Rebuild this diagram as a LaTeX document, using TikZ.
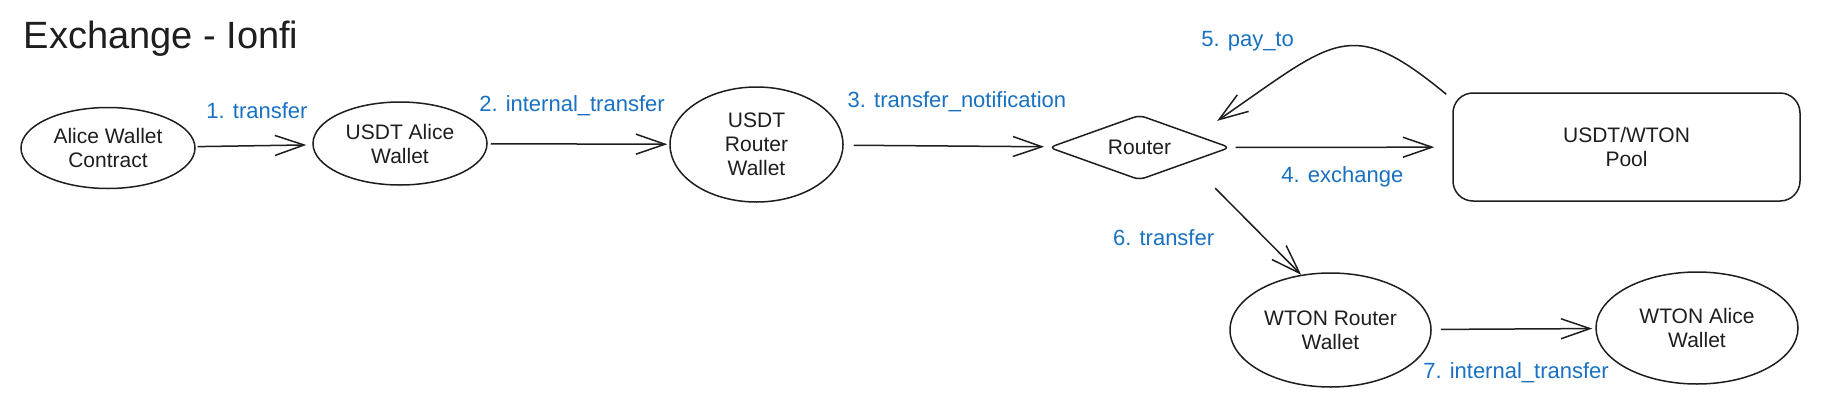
\documentclass[tikz,border=0pt]{standalone}
\usepackage{fontspec}
\setmainfont{Liberation Sans}
\usetikzlibrary{shapes.geometric,arrows.meta}
\definecolor{inkblack}{HTML}{1E1E1E}
\definecolor{labelblue}{HTML}{1971C2}
\begin{document}
\begin{tikzpicture}[x=0.5pt,y=-0.5pt,line width=0.75pt,color=inkblack,
    >={Straight Barb[length=14.5pt,width=10pt]},
    wallet/.style={ellipse,draw,inner sep=0pt,align=center,font=\fontsize{10.5}{12}\selectfont},
    hub/.style={diamond,draw,rounded corners=3pt,aspect=2.78,inner sep=0pt,minimum width=90.5pt,minimum height=32.5pt,font=\fontsize{10.5}{12}\selectfont},
    lbl/.style={text=labelblue,inner sep=0pt,font=\fontsize{11}{13}\selectfont},
    flow/.style={->,shorten <=2pt,shorten >=2pt}]
\fill[white] (0,0) rectangle (1836,418);
\useasboundingbox (0,0) rectangle (1836,418);
\node[anchor=base west,inner sep=0pt,font=\fontsize{19}{21}\selectfont] (title) at (23,48) {Exchange - Ionfi};
% wallets and contracts
\node[wallet,minimum width=87pt,minimum height=40.5pt] (alice) at (108,148) {Alice Wallet\\Contract};
\node[wallet,minimum width=87pt,minimum height=41.5pt] (usdtalice) at (400,143.5) {USDT Alice\\Wallet};
\node[wallet,minimum width=86.5pt,minimum height=57.5pt] (usdtrouter) at (756.5,144.5) {USDT\\Router\\Wallet};
\node[hub] (router) at (1139.5,147.5) {Router};
\node[draw,rounded corners=10pt,minimum width=173.5pt,minimum height=54pt,align=center,font=\fontsize{10.5}{12}\selectfont] (pool) at (1626.5,147) {USDT/WTON\\Pool};
\node[wallet,minimum width=100.5pt,minimum height=57pt] (wtonrouter) at (1330.5,330) {WTON Router\\Wallet};
\node[wallet,minimum width=101pt,minimum height=56pt] (wtonalice) at (1697,328) {WTON Alice\\Wallet};
% messages
\draw[flow,shorten <=1pt,shorten >=3pt](alice)--node[lbl,xshift=1.5pt,yshift=17.5pt](l1){1. transfer}(usdtalice);
\draw[flow,shorten <=1.5pt,shorten >=1pt](usdtalice)--node[lbl,xshift=-3.25pt,yshift=19pt](l2){2. internal\_transfer}(usdtrouter);
\draw[flow,shorten <=5pt,shorten >=3pt](usdtrouter)--node[lbl,xshift=5pt,yshift=22pt](l3){3. transfer\_notification}(router);
\draw[flow,shorten <=2.5pt,shorten >=9pt](router)--node[lbl,xshift=0.5pt,yshift=-14.75pt](l4){4. exchange}(pool);
\draw[flow,shorten <=0pt,shorten >=0pt]([shift={(-6,2)}]pool.north west) .. controls +(-97,-80) and +(118,-81) .. ([shift={(32,-10)}]router.north east)
    node[lbl,pos=0.5,xshift=-46pt,yshift=3pt](l5){5. pay\_to};
\draw[flow,shorten <=0pt,shorten >=0pt]([shift={(30,24)}]router.south east)--node[lbl,xshift=-47.25pt,yshift=-3pt](l6){6. transfer}(wtonrouter.118);
\draw[flow,shorten <=4.5pt,shorten >=1.5pt](wtonrouter)--node[lbl,xshift=1.25pt,yshift=-22pt](l7){7. internal\_transfer}(wtonalice);
\end{tikzpicture}
\end{document}
